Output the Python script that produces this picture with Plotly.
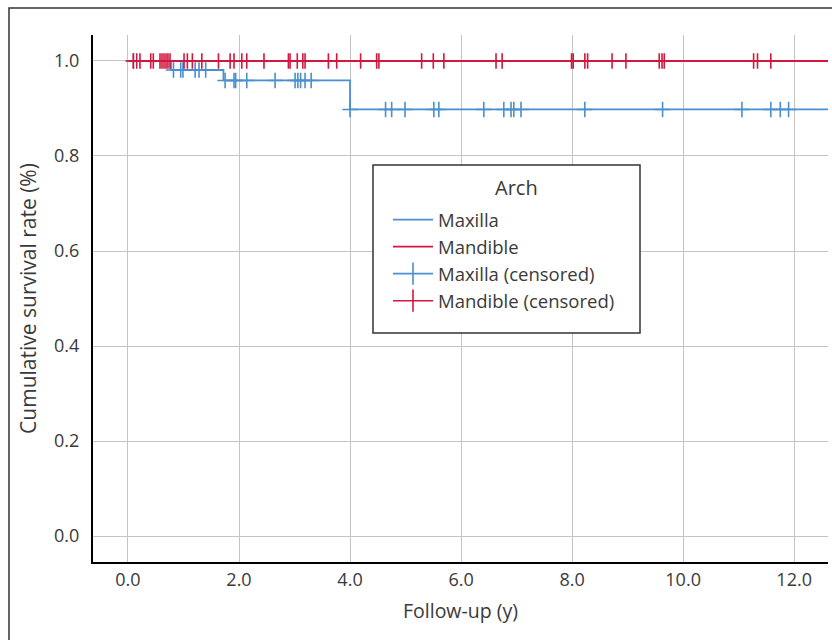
import plotly.graph_objects as go

# Kaplan-Meier step data (event times, survival after event)
maxilla_times = [0.0, 0.775, 1.72, 4.0]
maxilla_surv = [1.0, 0.981, 0.959, 0.898]
mandible_times = [0.0]
mandible_surv = [1.0]
line_end = 13.0

# Censored observations (years)
maxilla_censored = [0.10, 0.82, 0.95, 0.99, 1.21, 1.28, 1.40,
                    1.75, 1.91, 1.94, 2.14, 2.65, 3.01, 3.06, 3.11, 3.19, 3.30,
                    4.00, 4.64, 4.75, 4.99, 5.51, 5.60, 6.41, 6.77, 6.90, 6.95, 7.08,
                    8.23, 9.63, 11.06, 11.58, 11.75, 11.90]
mandible_censored = [0.095, 0.157, 0.216, 0.41, 0.456, 0.577, 0.613, 0.649, 0.685, 0.72, 0.757,
                     1.01, 1.07, 1.16, 1.33, 1.63, 1.84, 1.91, 2.05, 2.14, 2.45,
                     2.89, 2.92, 3.05, 3.15, 3.19, 3.61, 3.76, 4.19, 4.48, 4.52,
                     5.29, 5.50, 5.69, 6.63, 6.74, 7.99, 8.02, 8.23, 8.28, 8.72, 8.97,
                     9.57, 9.62, 9.66, 11.27, 11.34, 11.58]

x_ticks = [0, 2, 4, 6, 8, 10, 12]
y_ticks = [0.0, 0.2, 0.4, 0.6, 0.8, 1.0]

legend_title = "Arch"

BLUE = "#4a8fcf"
RED = "#d3173e"
FONT = "Open Sans"
TXT = "#3a3a3a"


def surv_at(times, surv, t):
    s = surv[0]
    for ti, si in zip(times, surv):
        if t >= ti:
            s = si
    return s


fig = go.Figure()

fig.add_trace(go.Scatter(x=maxilla_times + [line_end], y=maxilla_surv + [maxilla_surv[-1]],
                         mode="lines", line=dict(color=BLUE, width=1.8, shape="hv"),
                         name="Maxilla"))
fig.add_trace(go.Scatter(x=mandible_times + [line_end], y=mandible_surv + [mandible_surv[-1]],
                         mode="lines", line=dict(color=RED, width=1.8, shape="hv"),
                         name="Mandible"))

for cens, times, surv, col, nm in [
    (maxilla_censored, maxilla_times, maxilla_surv, BLUE, "Maxilla (censored)"),
    (mandible_censored, mandible_times, mandible_surv, RED, "Mandible (censored)"),
]:
    ys = [surv_at(times, surv, t) for t in cens]
    fig.add_trace(go.Scatter(x=cens, y=ys, mode="markers", showlegend=False,
                             marker=dict(symbol="cross-thin-open", size=11, color=col,
                                         line=dict(color=col, width=1.6)),
                             name=nm))
    # legend entry
    fig.add_trace(go.Scatter(x=[None], y=[None], mode="lines+markers", name=nm,
                             line=dict(color=col, width=1.6),
                             marker=dict(symbol="line-ns-open", size=24, color=col,
                                         line=dict(color=col, width=1.6))))

L, R, T, B = 93, 4, 35, 78
W, H = 832, 640
pw, ph = W - L - R, H - T - B


def px_x(p):
    return (p - L) / pw


def px_y(p):
    return 1 - (p - T) / ph


shapes = [
    # outer border
    dict(type="rect", xref="paper", yref="paper", x0=px_x(9), x1=px_x(840), y0=px_y(648), y1=px_y(8),
         line=dict(color="#333333", width=1.5), fillcolor="rgba(0,0,0,0)", layer="below"),
    # legend box
    dict(type="rect", xref="paper", yref="paper", x0=px_x(373), x1=px_x(640), y0=px_y(333), y1=px_y(165),
         line=dict(color="#333333", width=1.5), fillcolor="white", layer="above"),
]

annotations = [
    dict(text=legend_title, xref="paper", yref="paper", x=px_x(516), y=px_y(188),
         xanchor="center", yanchor="middle", showarrow=False,
         font=dict(family=FONT, size=20, color=TXT)),
]

fig.update_layout(
    width=W, height=H,
    margin=dict(l=L, r=R, t=T, b=B),
    paper_bgcolor="white", plot_bgcolor="white",
    font=dict(family=FONT, size=18, color=TXT),
    shapes=shapes,
    annotations=annotations,
    showlegend=True,
    legend=dict(x=px_x(388), y=px_y(201), xanchor="left", yanchor="top",
                bgcolor="rgba(0,0,0,0)", borderwidth=0,
                font=dict(family=FONT, size=18.5, color=TXT),
                itemwidth=40, tracegroupgap=0),
    xaxis=dict(range=[-0.63, 12.61], tickvals=x_ticks, ticktext=[f"{v:.1f}" for v in x_ticks],
               showgrid=True, gridcolor="#c4c4c4", gridwidth=1, zeroline=False,
               showline=True, linecolor="black", linewidth=2, ticks="",
               title=dict(text="Follow-up (y)", font=dict(size=19.5), standoff=15),
               tickfont=dict(size=18)),
    yaxis=dict(range=[-0.0547, 1.0547], tickvals=y_ticks, ticktext=[f"{v:.1f}" for v in y_ticks],
               showgrid=True, gridcolor="#c4c4c4", gridwidth=1, zeroline=False,
               showline=True, linecolor="black", linewidth=2, ticks="",
               ticklabelstandoff=8,
               title=dict(text="Cumulative survival rate (%)", font=dict(size=21), standoff=12),
               tickfont=dict(size=18)),
)

fig.write_html("out.html")
